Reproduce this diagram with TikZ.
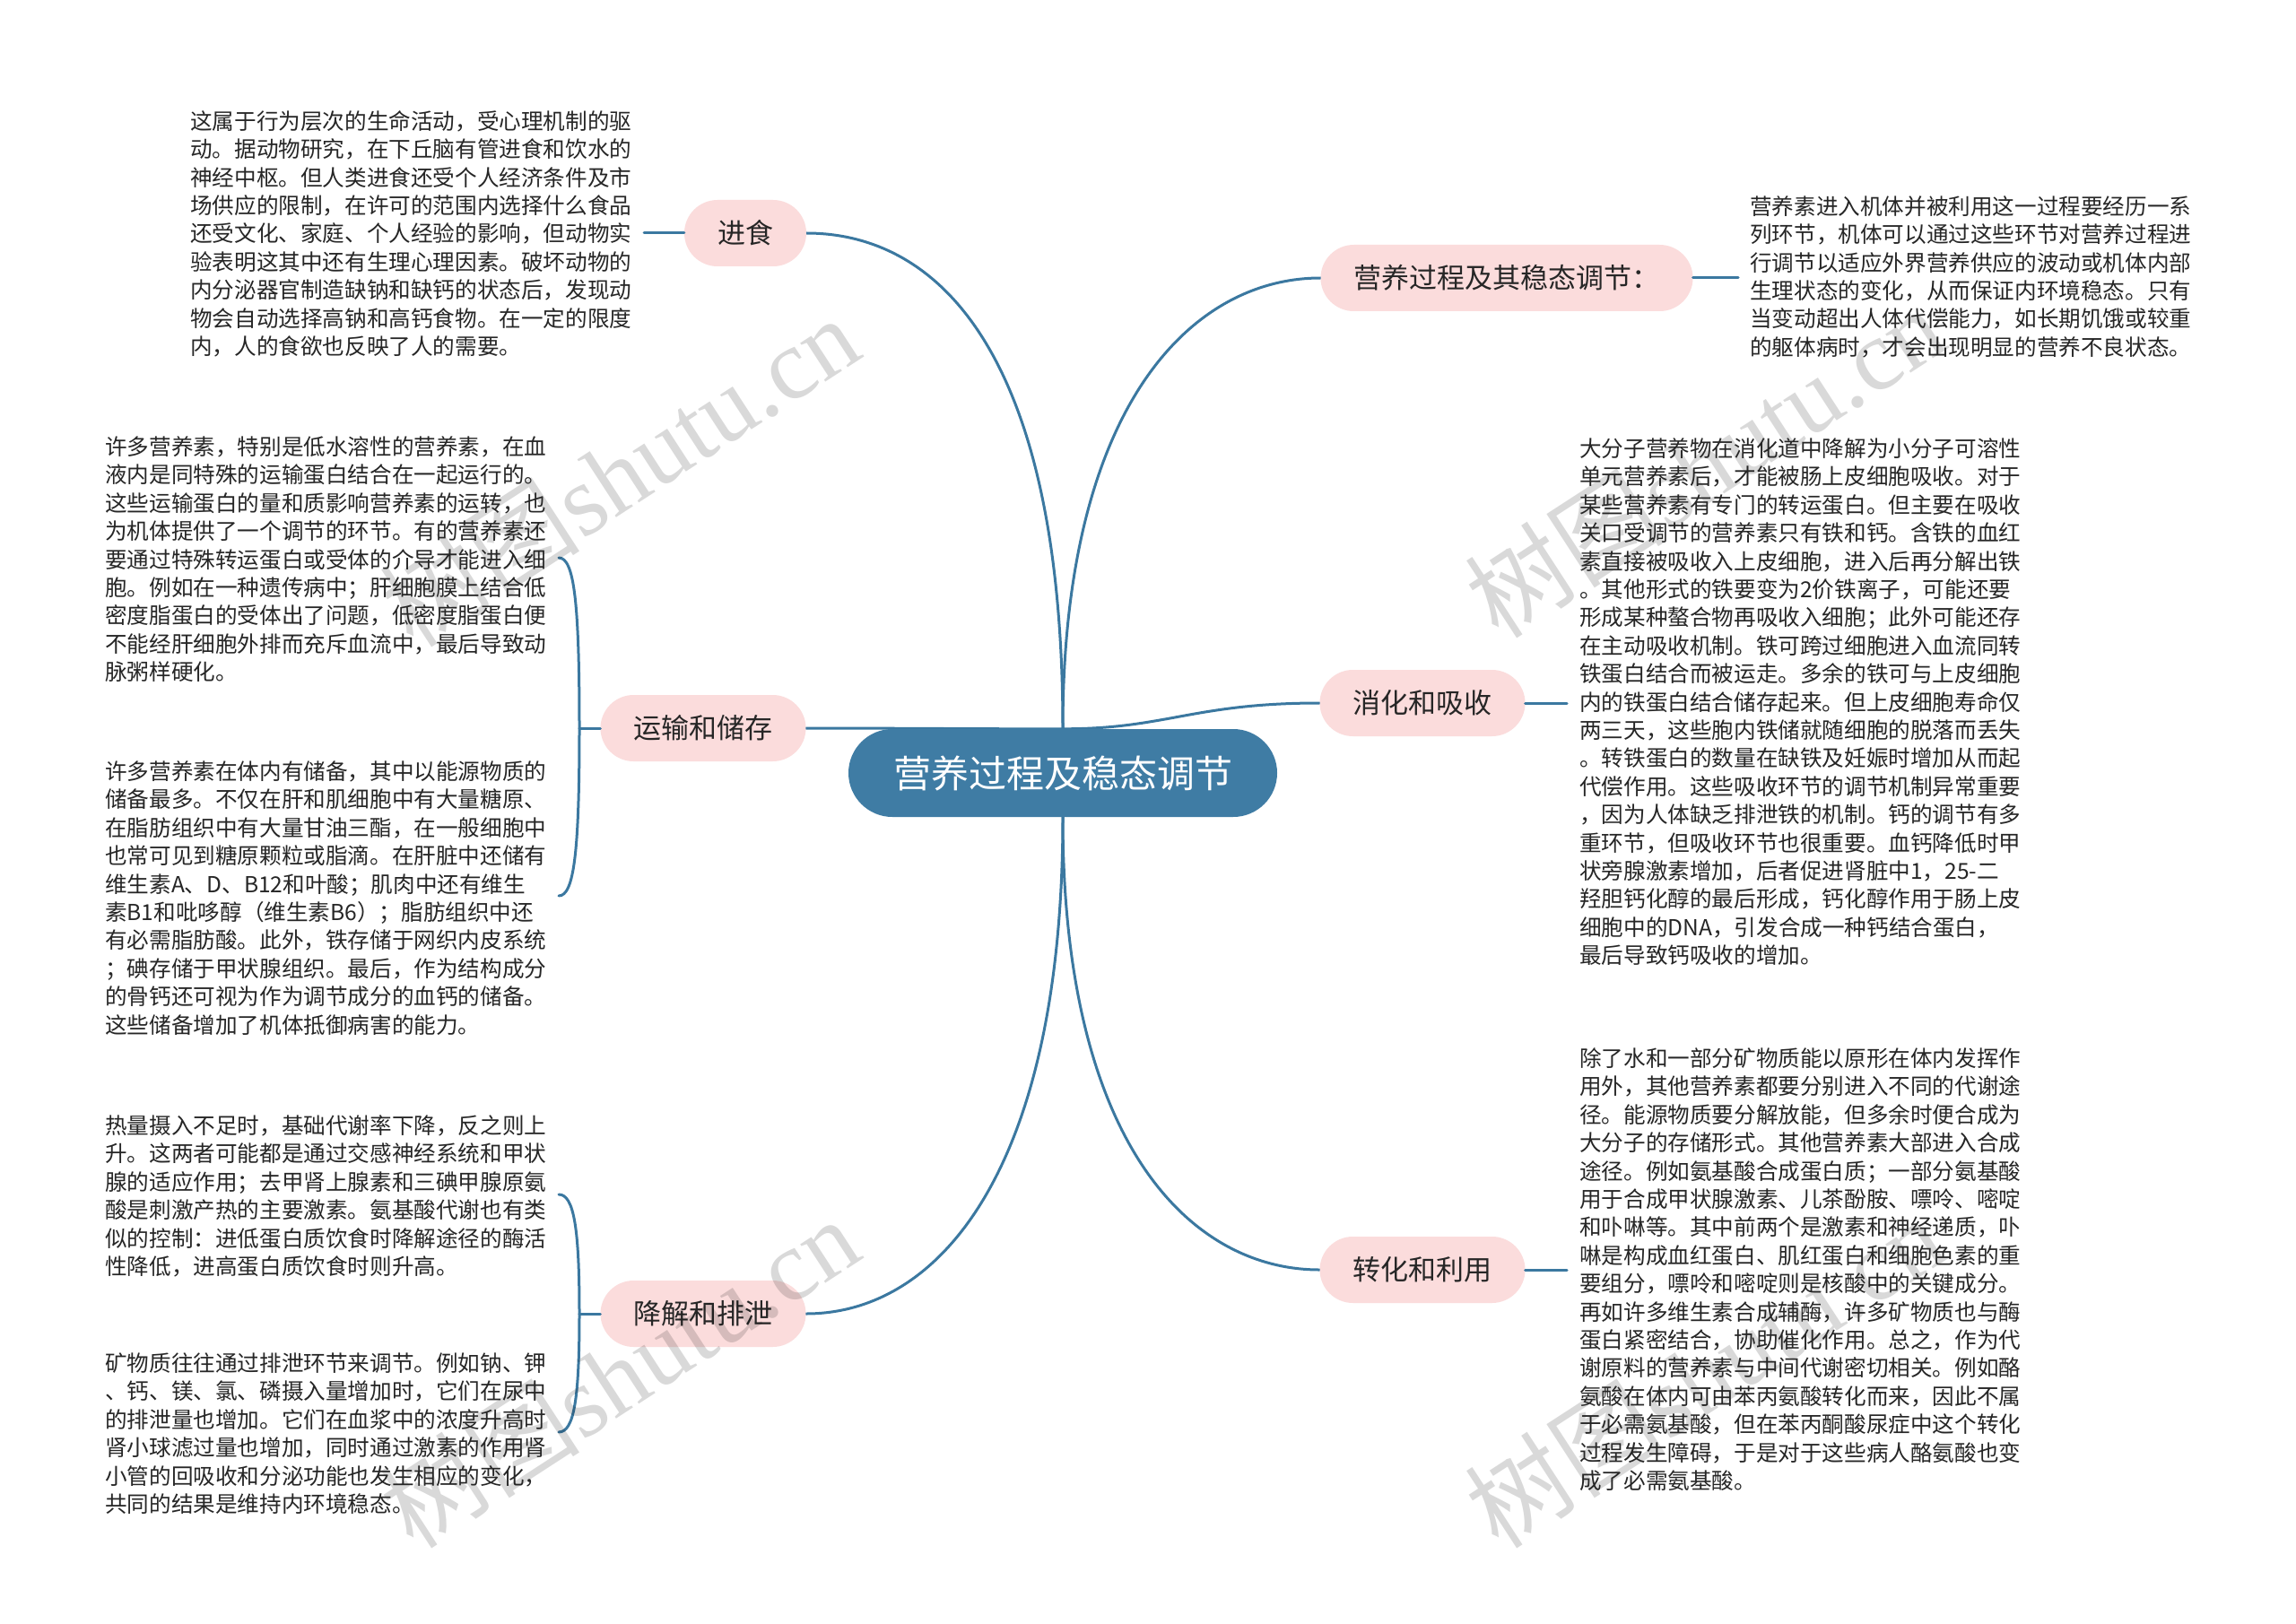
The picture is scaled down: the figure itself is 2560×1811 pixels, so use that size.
\documentclass[tikz,border=0pt]{standalone}
\usepackage{fontspec}
\setmainfont{Noto Sans CJK SC}
\newfontfamily\wmlatin{Liberation Serif}
\usetikzlibrary{backgrounds}
\definecolor{lineblue}{HTML}{3B78A0}
\definecolor{rootblue}{HTML}{3F7CA4}
\definecolor{pinkfill}{HTML}{FBDCDC}
\definecolor{txt}{HTML}{262626}
\newcommand{\tblk}[1]{\parbox[t]{540pt}{\fontsize{24.6pt}{31.4pt}\selectfont\raggedright #1}}
\tikzset{
  rootbox/.style={fill=rootblue, text=white, rounded corners=49pt, minimum height=98pt,
    inner xsep=50pt, inner ysep=0pt, font=\fontsize{42pt}{50pt}\selectfont},
  subbox/.style={fill=pinkfill, text=txt, rounded corners=37pt, minimum height=74pt,
    inner xsep=37pt, inner ysep=0pt, font=\fontsize{31pt}{37pt}\selectfont},
  textblk/.style={anchor=base west, inner sep=0pt, text=txt},
  conn/.style={draw=lineblue, line width=3pt, line cap=round},
  wmark/.style={rotate=33, text=black, opacity=0.15, inner sep=0pt,
    font=\fontsize{112pt}{112pt}\selectfont}
}
\begin{document}
\begin{tikzpicture}[x=1pt,y=-1pt]
\useasboundingbox (0,0) rectangle (2560,1811);

% main nodes
\node[rootbox] (root) at (1185,862) {营养过程及稳态调节};
\node[subbox] (jinshi) at (831,260) {进食};
\node[subbox] (yunshu) at (784,812) {运输和储存};
\node[subbox] (jiangjie) at (784,1465) {降解和排泄};
\node[subbox] (yingyang) at (1680,310) {营养过程及其稳态调节：};
\node[subbox] (xiaohua) at (1586,784) {消化和吸收};
\node[subbox] (zhuanhua) at (1586,1416) {转化和利用};

% free ends
\coordinate (s1) at (718,260);
\coordinate (s6) at (1938,310);
\coordinate (s7) at (1747,784);
\coordinate (s8) at (1747,1416);
\coordinate (b1) at (646,812);
\coordinate (b1t) at (623,622);
\coordinate (b1b) at (623,999);
\coordinate (b2) at (646,1465);
\coordinate (b2t) at (623,1332);
\coordinate (b2b) at (623,1597);

\begin{scope}[on background layer]
\fill[white] (0,0) rectangle (2560,1811);
\draw[conn] (root.north) .. controls (1185,400) and (1050,260) .. (jinshi.east);
\draw[conn] (root.north) .. controls (1185,450) and (1330,310) .. (yingyang.west);
\draw[conn] (yunshu.east) .. controls (1000,812) and (1100,813) .. (root.north);
\draw[conn] (root.north) .. controls (1300,813) and (1330,784) .. (xiaohua.west);
\draw[conn] (root.south) .. controls (1185,1300) and (1050,1465) .. (jiangjie.east);
\draw[conn] (root.south) .. controls (1185,1280) and (1330,1416) .. (zhuanhua.west);
\end{scope}

\draw[conn] (jinshi.west) -- (s1);
\draw[conn] (yingyang.east) -- (s6);
\draw[conn] (xiaohua.east) -- (s7);
\draw[conn] (zhuanhua.east) -- (s8);
\draw[conn] (yunshu.west) -- (b1);
\draw[conn] (b1) .. controls (646,670) and (640,622) .. (b1t);
\draw[conn] (b1) .. controls (646,950) and (640,999) .. (b1b);
\draw[conn] (jiangjie.west) -- (b2);
\draw[conn] (b2) .. controls (646,1370) and (640,1332) .. (b2t);
\draw[conn] (b2) .. controls (646,1560) and (640,1597) .. (b2b);

% watermarks
\node[wmark] (wm1) at (690,525) {树图{\wmlatin shutu.cn}};
\node[wmark] (wm2) at (1900,515) {树图{\wmlatin shutu.cn}};
\node[wmark] (wm3) at (690,1530) {树图{\wmlatin shutu.cn}};
\node[wmark] (wm4) at (1900,1530) {树图{\wmlatin shutu.cn}};

% text blocks
\node[textblk] (t1) at (212,144.4) {\tblk{%
这属于行为层次的生命活动，受心理机制的驱\\
动。据动物研究，在下丘脑有管进食和饮水的\\
神经中枢。但人类进食还受个人经济条件及市\\
场供应的限制，在许可的范围内选择什么食品\\
还受文化、家庭、个人经验的影响，但动物实\\
验表明这其中还有生理心理因素。破坏动物的\\
内分泌器官制造缺钠和缺钙的状态后，发现动\\
物会自动选择高钠和高钙食物。在一定的限度\\
内，人的食欲也反映了人的需要。}};

\node[textblk] (t2) at (117,507.4) {\tblk{%
许多营养素，特别是低水溶性的营养素，在血\\
液内是同特殊的运输蛋白结合在一起运行的。\\
这些运输蛋白的量和质影响营养素的运转，也\\
为机体提供了一个调节的环节。有的营养素还\\
要通过特殊转运蛋白或受体的介导才能进入细\\
胞。例如在一种遗传病中；肝细胞膜上结合低\\
密度脂蛋白的受体出了问题，低密度脂蛋白便\\
不能经肝细胞外排而充斥血流中，最后导致动\\
脉粥样硬化。}};

\node[textblk] (t3) at (117,869.4) {\tblk{%
许多营养素在体内有储备，其中以能源物质的\\
储备最多。不仅在肝和肌细胞中有大量糖原、\\
在脂肪组织中有大量甘油三酯，在一般细胞中\\
也常可见到糖原颗粒或脂滴。在肝脏中还储有\\
维生素A、D、B12和叶酸；肌肉中还有维生\\
素B1和吡哆醇（维生素B6）；脂肪组织中还\\
有必需脂肪酸。此外，铁存储于网织内皮系统\\
；碘存储于甲状腺组织。最后，作为结构成分\\
的骨钙还可视为作为调节成分的血钙的储备。\\
这些储备增加了机体抵御病害的能力。}};

\node[textblk] (t4) at (117,1264.4) {\tblk{%
热量摄入不足时，基础代谢率下降，反之则上\\
升。这两者可能都是通过交感神经系统和甲状\\
腺的适应作用；去甲肾上腺素和三碘甲腺原氨\\
酸是刺激产热的主要激素。氨基酸代谢也有类\\
似的控制：进低蛋白质饮食时降解途径的酶活\\
性降低，进高蛋白质饮食时则升高。}};

\node[textblk] (t5) at (117,1529.4) {\tblk{%
矿物质往往通过排泄环节来调节。例如钠、钾\\
、钙、镁、氯、磷摄入量增加时，它们在尿中\\
的排泄量也增加。它们在血浆中的浓度升高时\\
肾小球滤过量也增加，同时通过激素的作用肾\\
小管的回吸收和分泌功能也发生相应的变化，\\
共同的结果是维持内环境稳态。}};

\node[textblk] (t6) at (1951,239.4) {\tblk{%
营养素进入机体并被利用这一过程要经历一系\\
列环节，机体可以通过这些环节对营养过程进\\
行调节以适应外界营养供应的波动或机体内部\\
生理状态的变化，从而保证内环境稳态。只有\\
当变动超出人体代偿能力，如长期饥饿或较重\\
的躯体病时，才会出现明显的营养不良状态。}};

\node[textblk] (t7) at (1761,509.4) {\tblk{%
大分子营养物在消化道中降解为小分子可溶性\\
单元营养素后，才能被肠上皮细胞吸收。对于\\
某些营养素有专门的转运蛋白。但主要在吸收\\
关口受调节的营养素只有铁和钙。含铁的血红\\
素直接被吸收入上皮细胞，进入后再分解出铁\\
。其他形式的铁要变为2价铁离子，可能还要\\
形成某种螯合物再吸收入细胞；此外可能还存\\
在主动吸收机制。铁可跨过细胞进入血流同转\\
铁蛋白结合而被运走。多余的铁可与上皮细胞\\
内的铁蛋白结合储存起来。但上皮细胞寿命仅\\
两三天，这些胞内铁储就随细胞的脱落而丢失\\
。转铁蛋白的数量在缺铁及妊娠时增加从而起\\
代偿作用。这些吸收环节的调节机制异常重要\\
，因为人体缺乏排泄铁的机制。钙的调节有多\\
重环节，但吸收环节也很重要。血钙降低时甲\\
状旁腺激素增加，后者促进肾脏中1，25-二\\
羟胆钙化醇的最后形成，钙化醇作用于肠上皮\\
细胞中的DNA，引发合成一种钙结合蛋白，\\
最后导致钙吸收的增加。}};

\node[textblk] (t8) at (1761,1189.4) {\tblk{%
除了水和一部分矿物质能以原形在体内发挥作\\
用外，其他营养素都要分别进入不同的代谢途\\
径。能源物质要分解放能，但多余时便合成为\\
大分子的存储形式。其他营养素大部进入合成\\
途径。例如氨基酸合成蛋白质；一部分氨基酸\\
用于合成甲状腺激素、儿茶酚胺、嘌呤、嘧啶\\
和卟啉等。其中前两个是激素和神经递质，卟\\
啉是构成血红蛋白、肌红蛋白和细胞色素的重\\
要组分，嘌呤和嘧啶则是核酸中的关键成分。\\
再如许多维生素合成辅酶，许多矿物质也与酶\\
蛋白紧密结合，协助催化作用。总之，作为代\\
谢原料的营养素与中间代谢密切相关。例如酪\\
氨酸在体内可由苯丙氨酸转化而来，因此不属\\
于必需氨基酸，但在苯丙酮酸尿症中这个转化\\
过程发生障碍，于是对于这些病人酪氨酸也变\\
成了必需氨基酸。}};
\end{tikzpicture}
\end{document}
